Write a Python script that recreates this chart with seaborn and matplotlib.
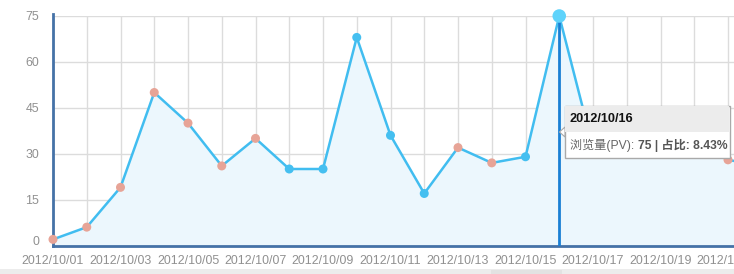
import matplotlib
matplotlib.use("Agg")
import matplotlib.pyplot as plt
import matplotlib.transforms as mtransforms
import seaborn as sns
import pandas as pd
from matplotlib.patches import Rectangle, Polygon

# ---- data ----
dates = ["2012/10/01", "2012/10/02", "2012/10/03", "2012/10/04", "2012/10/05",
         "2012/10/06", "2012/10/07", "2012/10/08", "2012/10/09", "2012/10/10",
         "2012/10/11", "2012/10/12", "2012/10/13", "2012/10/14", "2012/10/15",
         "2012/10/16", "2012/10/17", "2012/10/18", "2012/10/19", "2012/10/20",
         "2012/10/21", "2012/10/22"]
pv = [2, 6, 19, 50, 40, 26, 35, 25, 25, 68, 36, 17, 32, 27, 29, 75, 32, 34, 38, 36, 28, 26]
day_type = ["holiday"] * 7 + ["workday"] * 5 + ["holiday"] * 2 + ["workday"] * 5 + ["holiday"] * 2 + ["workday"]
yticks = [0, 15, 30, 45, 60, 75]
highlight = "2012/10/16"
tooltip_title = "2012/10/16"
tooltip_label = "浏览量(PV): "
tooltip_value = "75 | 占比: 8.43%"

df = pd.DataFrame({"date": dates, "pv": pv, "type": day_type})
df["idx"] = range(len(df))

sns.set_theme(style="white")
plt.rcParams["font.family"] = ["Liberation Sans", "Noto Sans CJK SC", "DejaVu Sans"]

W, H = 734, 274
fig = plt.figure(figsize=(W / 100, H / 100), dpi=100)
fig.patch.set_facecolor("white")

x_left_px, x0_px, step_px = 53, 53, 33.75
y_top_px, y_bot_px = 16, 245.5
xmax = (W - x0_px) / step_px
ax = fig.add_axes([x_left_px / W, (H - y_bot_px) / H, 1 - x_left_px / W, (y_bot_px - y_top_px) / H])

line_c = "#41bdf0"
ax.fill_between(df["idx"], df["pv"], 0, color="#ecf7fd", zorder=1, linewidth=0)
sns.lineplot(data=df, x="idx", y="pv", ax=ax, color=line_c, linewidth=1.8, zorder=3,
             legend=False)
sns.scatterplot(data=df[df["date"] != highlight], x="idx", y="pv", hue="type",
                palette={"holiday": "#e7a497", "workday": "#45bff0"}, s=42,
                edgecolor="none", ax=ax, zorder=4, legend=False, clip_on=False)
hi = df[df["date"] == highlight]
ax.scatter(hi["idx"], hi["pv"], s=95, color="#5fd3fb", edgecolor="none", zorder=6, clip_on=False)
ax.axvline(hi["idx"].iloc[0], color="#1a7fd4", linewidth=2, zorder=5)

# grid / ticks
ax.set_yticks(yticks)
ax.set_xticks(range(0, len(dates)))
ax.set_xticklabels([d if i % 2 == 0 else "" for i, d in enumerate(dates)])
ax.set_xlim(0, xmax)
ax.set_ylim(0, 75)
ax.grid(True, color="#dcdcdc", linewidth=1)
ax.set_axisbelow(True)
ax.tick_params(axis="x", length=0, pad=7, labelsize=8.9, labelcolor="#909090")
ax.tick_params(axis="y", length=0, pad=10, labelsize=8.9, labelcolor="#909090")
ax.set_xlabel("")
ax.set_ylabel("")
for s in ["top", "right"]:
    ax.spines[s].set_visible(False)
for s in ["left", "bottom"]:
    ax.spines[s].set_color("#4572a7")
    ax.spines[s].set_linewidth(2)
ax.spines["left"].set_bounds(0, 75.6)

# lift the "0" label a little, as in the reference
zero_tick = ax.yaxis.get_major_ticks()[0]
zero_tick.label1.set_transform(zero_tick.label1.get_transform() +
                               mtransforms.ScaledTranslation(0, 5 / 100, fig.dpi_scale_trans))

# tooltip (figure pixel coordinates)
def fx(px):
    return px / W

def fy(py):
    return 1 - py / H

tl, tr, tt, tb, th = 564.5, 729.5, 105.5, 157.5, 131.5
fig.patches.append(Rectangle((fx(tl + 1.5), fy(tb + 1.5)), fx(tr - tl), (tb - tt) / H,
                             transform=fig.transFigure, facecolor="#000000", alpha=0.12,
                             edgecolor="none", zorder=20))
fig.patches.append(Rectangle((fx(tl), fy(tb)), fx(tr - tl), (tb - tt) / H, transform=fig.transFigure,
                             facecolor="white", edgecolor="#a9a9a9", linewidth=1, zorder=21))
fig.patches.append(Rectangle((fx(tl + 0.5), fy(th)), fx(tr - tl - 1), (th - tt - 0.5) / H,
                             transform=fig.transFigure, facecolor="#ececec", edgecolor="none", zorder=22))
fig.patches.append(Polygon([(fx(tl + 0.5), fy(127)), (fx(tl - 5), fy(132)), (fx(tl + 0.5), fy(137))],
                           closed=True, transform=fig.transFigure, facecolor="white",
                           edgecolor="#a9a9a9", linewidth=0.8, zorder=21))
fig.text(fx(570), fy(119), tooltip_title, fontsize=9.2, fontweight="bold", color="#111111",
         va="center", ha="left", zorder=23)
t1 = fig.text(fx(570), fy(145), tooltip_label, fontsize=8.7, color="#666666",
              va="center", ha="left", zorder=23)
fig.canvas.draw()
bb = t1.get_window_extent()
fig.text(bb.x1 / W, fy(145), tooltip_value, fontsize=8.7, fontweight="bold", color="#555555",
         va="center", ha="left", zorder=23)

# bottom scrollbar strip
fig.patches.append(Rectangle((0, 0), 1, (H - 268.5) / H, transform=fig.transFigure,
                             facecolor="#ececec", edgecolor="none", zorder=1))
fig.patches.append(Rectangle((fx(490.5), 0), fx(71), (H - 270) / H, transform=fig.transFigure,
                             facecolor="#e2e2e2", edgecolor="none", zorder=2))

fig.savefig("out.png", dpi=100)
